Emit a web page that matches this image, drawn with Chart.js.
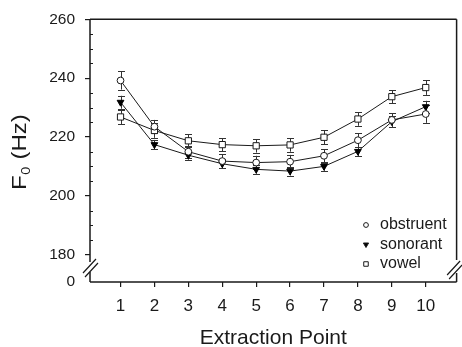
<!DOCTYPE html>
<html>
<head>
<meta charset="utf-8">
<script src="https://cdn.jsdelivr.net/npm/chart.js@4.4.0/dist/chart.umd.min.js"></script>
<style>
  html, body { margin: 0; padding: 0; background: #fff; }
  #wrap { width: 462px; height: 347px; }
</style>
</head>
<body>
<div id="wrap"><canvas id="f0Chart" width="462" height="347"></canvas></div>
<script>
// extraction points on the x axis
const points = [1, 2, 3, 4, 5, 6, 7, 8, 9, 10];

// mean F0 (Hz) per context
const obstruent = [239.2, 223.5, 215.0, 211.8, 211.3, 211.6, 213.6, 218.9, 225.8, 227.8];
const sonorant  = [231.8, 217.4, 213.8, 210.9, 209.0, 208.4, 210.0, 215.1, 225.2, 230.3];
const vowel     = [226.8, 222.2, 218.7, 217.4, 217.0, 217.3, 219.9, 226.1, 233.7, 236.8];

// error bar half-lengths (Hz)
const obstruentErr = [3.1, 2.3, 2.0, 2.3, 2.3, 2.3, 2.3, 2.3, 2.3, 3.0];
const sonorantErr  = [2.2, 1.6, 1.5, 1.6, 1.5, 1.5, 1.5, 1.6, 1.9, 2.0];
const vowelErr     = [2.5, 2.5, 2.2, 2.2, 2.3, 2.3, 2.3, 2.3, 2.2, 2.5];

// y axis labels (the bottom one sits under the axis break)
const yTickValues = [180, 200, 220, 240, 260];
const yBreakLabel = '0';
const yMinorStep = 5;

const FONT = '"Liberation Sans", Arial, Helvetica, sans-serif';
const INK = '#1a1a1a';
const Y_MIN = 170.7, Y_MAX = 260;

function toXY(vals) {
    return vals.map((v, i) => ({ x: points[i], y: v }));
}

// error bars under the markers
const errorBars = {
    id: 'errorBars',
    beforeDatasetsDraw(chart) {
        const ctx = chart.ctx;
        const xs = chart.scales.x, ys = chart.scales.y;
        ctx.save();
        ctx.strokeStyle = '#333';
        ctx.lineWidth = 1;
        chart.data.datasets.forEach(ds => {
            ds.data.forEach((p, i) => {
                const e = ds.errors[i];
                const x = Math.round(xs.getPixelForValue(p.x)) + 0.5;
                const y1 = ys.getPixelForValue(p.y + e);
                const y2 = ys.getPixelForValue(p.y - e);
                ctx.beginPath();
                ctx.moveTo(x, y1); ctx.lineTo(x, y2);
                ctx.moveTo(x - 3.5, Math.round(y1) + 0.5); ctx.lineTo(x + 3.5, Math.round(y1) + 0.5);
                ctx.moveTo(x - 3.5, Math.round(y2) + 0.5); ctx.lineTo(x + 3.5, Math.round(y2) + 0.5);
                ctx.stroke();
            });
        });
        ctx.restore();
    }
};

// frame with axis breaks, minor ticks, titles and legend
const frame = {
    id: 'frame',
    afterDraw(chart) {
        const ctx = chart.ctx;
        const a = chart.chartArea;
        const ys = chart.scales.y;
        const L = a.left, R = a.right, T = a.top, B = a.bottom;
        ctx.save();
        ctx.strokeStyle = INK;
        ctx.lineWidth = 1.5;
        ctx.beginPath();
        // top and bottom
        ctx.moveTo(L, T); ctx.lineTo(R, T);
        ctx.moveTo(L, B); ctx.lineTo(R, B);
        // left with gap
        ctx.moveTo(L, T); ctx.lineTo(L, B - 20);
        ctx.moveTo(L, B - 10); ctx.lineTo(L, B);
        // right with gap
        ctx.moveTo(R, T); ctx.lineTo(R, B - 22);
        ctx.moveTo(R, B - 9); ctx.lineTo(R, B);
        ctx.stroke();

        // break marks
        ctx.lineWidth = 1.2;
        ctx.beginPath();
        [[L - 0.5, B - 16], [L + 1.5, B - 12], [R - 3, B - 14], [R - 1, B - 10]].forEach(([cx, cy]) => {
            ctx.moveTo(cx - 6.5, cy + 7); ctx.lineTo(cx + 6.5, cy - 7);
        });
        ctx.stroke();

        // minor ticks inside the left axis
        ctx.lineWidth = 1;
        ctx.beginPath();
        for (let v = 185; v < Y_MAX; v += yMinorStep) {
            if (v % 20 === 0) continue;
            const y = Math.round(ys.getPixelForValue(v)) + 0.5;
            ctx.moveTo(L, y); ctx.lineTo(L + 3, y);
        }
        ctx.stroke();

        // x title
        ctx.fillStyle = INK;
        ctx.font = '21px ' + FONT;
        ctx.textAlign = 'center';
        ctx.textBaseline = 'alphabetic';
        ctx.fillText('Extraction Point', (L + R) / 2, 344);

        // y title F0 (Hz) with subscript
        ctx.save();
        ctx.translate(26, 190);
        ctx.rotate(-Math.PI / 2);
        ctx.scale(1.2, 1);
        ctx.textAlign = 'left';
        ctx.font = '20px ' + FONT;
        ctx.fillText('F', 0, 0);
        let w = ctx.measureText('F').width;
        ctx.font = '12px ' + FONT;
        ctx.fillText('0', w + 0.5, 3.5);
        w += ctx.measureText('0').width + 1;
        ctx.font = '20px ' + FONT;
        ctx.fillText(' (Hz)', w, 0);
        ctx.restore();

        // legend
        const rowsY = [225, 244.5, 264];
        const legendStyle = [
            { pointStyle: 'circle', rotation: 0, radius: 2.4, fill: '#fff' },
            { pointStyle: 'triangle', rotation: 180, radius: 3, fill: '#000' },
            { pointStyle: 'rect', rotation: 0, radius: 3.2, fill: '#fff' }
        ];
        ctx.font = '16px ' + FONT;
        ctx.textAlign = 'left';
        ctx.textBaseline = 'middle';
        chart.data.datasets.forEach((ds, i) => {
            const st = legendStyle[i];
            ctx.fillStyle = st.fill;
            ctx.strokeStyle = INK;
            ctx.lineWidth = 1;
            Chart.helpers.drawPoint(ctx, { pointStyle: st.pointStyle, rotation: st.rotation, radius: st.radius, borderWidth: 1 }, 366, rowsY[i]);
            ctx.fillStyle = INK;
            ctx.fillText(ds.label, 380, rowsY[i]);
        });
        ctx.restore();
    }
};

const ctx = document.getElementById('f0Chart').getContext('2d');
const f0Chart = new Chart(ctx, {
    type: 'line',
    data: {
        datasets: [{
            label: 'obstruent',
            data: toXY(obstruent),
            errors: obstruentErr,
            borderColor: INK,
            borderWidth: 1,
            pointStyle: 'circle',
            pointRadius: 3.4,
            pointBackgroundColor: '#fff',
            pointBorderColor: INK,
            pointBorderWidth: 1,
            tension: 0,
            fill: false
        }, {
            label: 'sonorant',
            data: toXY(sonorant),
            errors: sonorantErr,
            borderColor: INK,
            borderWidth: 1,
            pointStyle: 'triangle',
            pointRotation: 180,
            pointRadius: 3.9,
            pointBackgroundColor: '#000',
            pointBorderColor: '#000',
            pointBorderWidth: 1,
            tension: 0,
            fill: false
        }, {
            label: 'vowel',
            data: toXY(vowel),
            errors: vowelErr,
            borderColor: INK,
            borderWidth: 1,
            pointStyle: 'rect',
            pointRadius: 4.4,
            pointBackgroundColor: '#fff',
            pointBorderColor: INK,
            pointBorderWidth: 1,
            tension: 0,
            fill: false
        }]
    },
    options: {
        responsive: false,
        animation: false,
        devicePixelRatio: 1,
        layout: { padding: { top: 16, right: 3, bottom: 0, left: 0 } },
        plugins: {
            legend: { display: false },
            tooltip: { enabled: false }
        },
        scales: {
            x: {
                type: 'linear',
                min: 0.1,
                max: 10.91,
                afterBuildTicks: scale => { scale.ticks = points.map(v => ({ value: v })); },
                afterFit: scale => { scale.height = 65; },
                border: { display: false },
                grid: { drawOnChartArea: false, tickLength: 5, color: INK, lineWidth: 1.2 },
                ticks: {
                    color: INK,
                    padding: 9,
                    maxRotation: 0,
                    font: { family: FONT, size: 17 }
                }
            },
            y: {
                type: 'linear',
                min: Y_MIN,
                max: Y_MAX,
                afterBuildTicks: scale => {
                    scale.ticks = [{ value: Y_MIN }].concat(yTickValues.map(v => ({ value: v })));
                },
                afterFit: scale => { scale.width = 90; },
                border: { display: false },
                grid: {
                    drawOnChartArea: false,
                    tickLength: 5,
                    lineWidth: 1.2,
                    color: c => (c.tick && c.tick.value < 175) ? 'rgba(0,0,0,0)' : INK
                },
                ticks: {
                    color: INK,
                    padding: 10,
                    font: { family: FONT, size: 15.5 },
                    callback: v => v < 175 ? yBreakLabel : String(v)
                }
            }
        }
    },
    plugins: [errorBars, frame]
});
</script>
</body>
</html>
